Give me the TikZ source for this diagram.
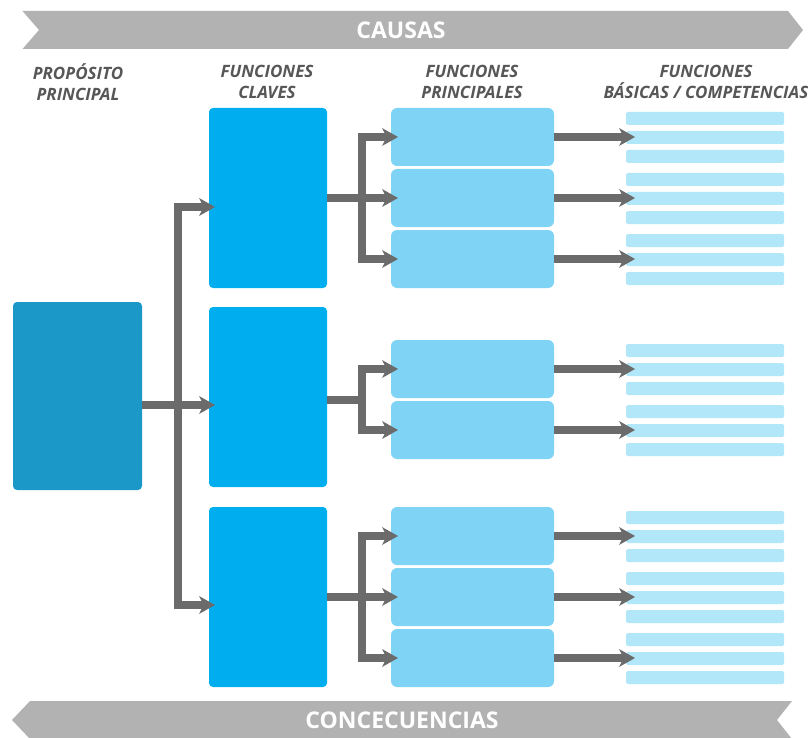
\documentclass[tikz,border=0pt]{standalone}
\usepackage{fontspec}
\newfontfamily\osans{Open Sans}
\usetikzlibrary{arrows.meta,calc}
\definecolor{bannergray}{HTML}{B2B2B2}
\definecolor{arrowgray}{HTML}{6B6B6B}
\definecolor{headgray}{HTML}{575757}
\definecolor{propblue}{HTML}{1B98C7}
\definecolor{keyblue}{HTML}{00AEEF}
\definecolor{mainblue}{HTML}{7FD4F6}
\definecolor{barblue}{HTML}{B2E7F9}
\begin{document}
\begin{tikzpicture}[x=1pt,y=-1pt,
  box/.style={inner sep=0pt, outer sep=0pt, anchor=north west, draw=none},
  propbox/.style={box, fill=propblue, rounded corners=4pt, minimum width=129pt, minimum height=188pt},
  keybox/.style={box, fill=keyblue, rounded corners=4pt, minimum width=118pt, minimum height=180pt},
  mainbox/.style={box, fill=mainblue, rounded corners=6pt, minimum width=163pt, minimum height=58pt},
  barbox/.style={box, fill=barblue, rounded corners=1.5pt, minimum width=158pt, minimum height=13pt},
  conn/.style={draw=arrowgray, line width=7.5pt, line join=miter},
  tip/.style={conn, -{Stealth[length=16pt, width=18pt, inset=4.5pt, line width=0pt]}},
  banner/.style={fill=bannergray},
  bannertext/.style={text=white, font=\osans\bfseries\fontsize{23}{26}\selectfont, inner sep=0pt},
  header/.style={text=headgray, align=center, font=\osans\bfseries\itshape\fontsize{17}{21}\selectfont, inner sep=0pt}
]
\useasboundingbox (0,0) rectangle (808,738);

% banners
\fill[banner] (22.5,11) -- (788,11) -- (803,30) -- (788,49) -- (22.5,49) -- (39,30) -- cycle;
\node[bannertext] (causas) at (401,30) {CAUSAS};
\fill[banner] (30,701) -- (792,701) -- (777,720) -- (792,739) -- (30,739) -- (12,720) -- cycle;
\node[bannertext] (conse) at (402,720) {CONCECUENCIAS};

% headers
\node[header] (h1) at (78,82) {PROPÓSITO\\PRINCIPAL};
\node[header] (h2) at (267,82) {FUNCIONES\\CLAVES};
\node[header] (h3) at (472,82) {FUNCIONES\\PRINCIPALES};
\node[header] (h4) at (706,82) {FUNCIONES\\BÁSICAS / COMPETENCIAS};

% boxes
\node[propbox] (prop) at (13,302) {};
\node[keybox] (k1) at (209,108) {};
\node[keybox] (k2) at (209,307) {};
\node[keybox] (k3) at (209,507) {};
\foreach \i/\t in {1/108,2/169,3/230,4/340,5/401,6/507,7/568,8/629}{
  \node[mainbox] (p\i) at (391,\t) {};
  \foreach \j/\o in {1/4,2/23,3/42}{
    \node[barbox] (b\i-\j) at (626,\t+\o) {};
  }
}

% trunk from main purpose
\coordinate (t1) at (178,207);
\coordinate (t2) at (178,405);
\coordinate (t3) at (178,605);
\draw[conn] (prop.east |- t2) -- (t2);
\draw[tip] (t2) -- ($(k2.west |- t2)+(6,0)$);
\draw[tip] (t2) -- (t1) -- ($(k1.west |- t1)+(6,0)$);
\draw[tip] (t2) -- (t3) -- ($(k3.west |- t3)+(6,0)$);

% group 1
\coordinate (s1) at (362,198);
\draw[conn] (k1.east |- s1) -- (s1);
\draw[tip] (s1) -- ($(p2.west)+(7,0)$);
\draw[tip] (s1) -- (s1 |- p1.west) -- ($(p1.west)+(7,0)$);
\draw[tip] (s1) -- (s1 |- p3.west) -- ($(p3.west)+(7,0)$);

% group 2
\coordinate (s2) at (362,400);
\draw[conn] (k2.east |- s2) -- (s2);
\draw[tip] (s2) -- (s2 |- p4.west) -- ($(p4.west)+(7,0)$);
\draw[tip] (s2) -- (s2 |- p5.west) -- ($(p5.west)+(7,0)$);

% group 3
\coordinate (s3) at (362,597);
\draw[conn] (k3.east |- s3) -- (s3);
\draw[tip] (s3) -- ($(p7.west)+(7,0)$);
\draw[tip] (s3) -- (s3 |- p6.west) -- ($(p6.west)+(7,0)$);
\draw[tip] (s3) -- (s3 |- p8.west) -- ($(p8.west)+(7,0)$);

% arrows to competencies
\foreach \i in {1,...,8}{
  \draw[tip] (p\i.east) -- ($(b\i-1.west |- p\i.east)+(9,0)$);
}
\end{tikzpicture}
\end{document}
